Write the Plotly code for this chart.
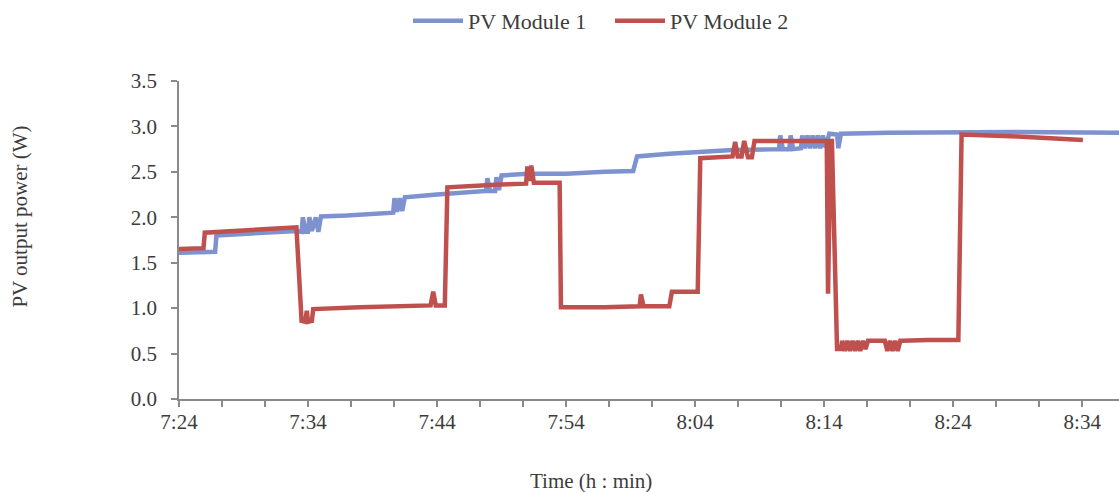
import plotly.graph_objects as go

# minutes after 7:24
t1 = [0, 2.8, 2.9, 5, 9.1, 9.5, 9.6, 9.8, 10.0, 10.1, 10.3, 10.6, 10.8, 11.0, 11.2, 13, 16.6, 16.7,
      16.9, 17.1, 17.3, 17.5, 20, 23.3, 23.8, 23.9, 24.1, 24.5, 24.6, 24.8, 25.0, 27, 30, 33, 35.2,
      35.5, 38, 42.9, 45, 46.5, 46.6, 46.8, 47.3, 47.4, 47.6, 48.2, 48.3, 48.5, 48.7, 48.9, 49.1,
      49.3, 49.5, 49.7, 49.9, 50.1, 50.4, 51.0, 51.1, 51.3, 55, 60.5, 65, 72.85]
p1 = [1.61, 1.62, 1.80, 1.82, 1.85, 1.84, 2.00, 1.84, 1.84, 2.00, 1.85, 2.00, 1.84, 2.01, 2.01, 2.02,
      2.05, 2.21, 2.06, 2.21, 2.07, 2.22, 2.25, 2.28, 2.29, 2.43, 2.29, 2.29, 2.44, 2.30, 2.46, 2.48,
      2.48, 2.50, 2.51, 2.67, 2.70, 2.74, 2.75, 2.75, 2.90, 2.75, 2.75, 2.90, 2.75, 2.76, 2.90, 2.76,
      2.90, 2.76, 2.90, 2.76, 2.90, 2.76, 2.90, 2.77, 2.92, 2.91, 2.76, 2.92, 2.93, 2.94, 2.94, 2.93]

t2 = [0, 1.9, 2.0, 5, 9.1, 9.5, 9.8, 9.9, 10.0, 10.3, 10.4, 14, 19.5, 19.7, 19.9, 20.6, 20.8, 24.9,
      26.9, 27.0, 27.2, 27.3, 27.5, 29.5, 29.6, 33, 35.7, 35.8, 36.0, 38.0, 38.2, 40.2, 40.4, 42.9,
      43.1, 43.3, 43.6, 43.8, 44.1, 44.4, 44.6, 50.2, 50.3, 50.5, 50.6, 51.0, 51.3, 51.4, 51.6, 51.8,
      52.0, 52.2, 52.4, 52.6, 52.8, 53.0, 53.2, 53.4, 54.7, 54.9, 55.1, 55.3, 55.5, 55.7, 55.9, 56.1,
      58, 60.4, 60.65, 65, 70.05]
p2 = [1.65, 1.66, 1.83, 1.86, 1.89, 0.86, 0.85, 0.97, 0.85, 0.86, 0.99, 1.01, 1.03, 1.18, 1.03, 1.03,
      2.33, 2.36, 2.37, 2.56, 2.40, 2.57, 2.38, 2.38, 1.01, 1.01, 1.02, 1.15, 1.02, 1.02, 1.18, 1.18,
      2.65, 2.67, 2.83, 2.67, 2.67, 2.84, 2.66, 2.66, 2.84, 2.84, 1.16, 2.84, 2.84, 0.55, 0.55, 0.64,
      0.53, 0.64, 0.53, 0.64, 0.53, 0.64, 0.53, 0.64, 0.55, 0.64, 0.64, 0.53, 0.64, 0.53, 0.64, 0.53,
      0.64, 0.64, 0.65, 0.65, 2.91, 2.89, 2.85]

tick_vals = [i * 10 / 3 for i in range(22)]
label_names = ["7:24", "7:34", "7:44", "7:54", "8:04", "8:14", "8:24", "8:34"]
tick_text = [label_names[i // 3] if i % 3 == 0 else "" for i in range(22)]

y_vals = [0, 0.5, 1, 1.5, 2, 2.5, 3, 3.5]
y_text = ["0.0", "0.5", "1.0", "1.5", "2.0", "2.5", "3.0", "3.5"]

FONT = "Liberation Serif"
TXT = "#3c3c3c"
FS = 21

fig = go.Figure()
fig.add_trace(go.Scatter(x=t1, y=p1, mode="lines", name="PV Module 1",
                         line=dict(color="#7D92CF", width=4.5)))
fig.add_trace(go.Scatter(x=t2, y=p2, mode="lines", name="PV Module 2",
                         line=dict(color="#C0504D", width=4.5)))

axis_common = dict(showgrid=False, zeroline=False, showline=True, linecolor="#8a8a8a",
                   linewidth=1.5, ticks="outside", ticklen=6, tickcolor="#8a8a8a", tickwidth=1.5,
                   tickfont=dict(family=FONT, size=FS, color=TXT))

fig.update_layout(
    width=1119, height=492,
    margin=dict(l=179, r=0, t=80, b=93),
    paper_bgcolor="white", plot_bgcolor="white",
    font=dict(family=FONT, size=FS, color=TXT),
    showlegend=True,
    legend=dict(orientation="h", x=(408 - 179) / 940, xanchor="left", y=1.188, yanchor="middle",
                font=dict(family=FONT, size=22, color=TXT), itemwidth=50,
                entrywidth=137, entrywidthmode="pixels",
                bgcolor="rgba(0,0,0,0)"),
    xaxis=dict(range=[0, 72.85], tickmode="array", tickvals=tick_vals, ticktext=tick_text,
               ticklabelstandoff=-3, **axis_common),
    yaxis=dict(range=[0, 3.5], tickmode="array", tickvals=y_vals, ticktext=y_text,
               ticklabelstandoff=10, **axis_common),
    annotations=[
        dict(text="PV output power (W)", textangle=-90, xref="paper", yref="paper",
             x=-0.169, y=0.574, xanchor="center", yanchor="middle", showarrow=False,
             font=dict(family=FONT, size=FS, color=TXT)),
        dict(text="Time (h : min)", xref="paper", yref="paper",
             x=0.438, y=-0.257, xanchor="center", yanchor="middle", showarrow=False,
             font=dict(family=FONT, size=FS, color=TXT)),
    ],
)

fig.write_html("out.html", config={"displayModeBar": False},
               post_script="document.body.style.margin='0';")
